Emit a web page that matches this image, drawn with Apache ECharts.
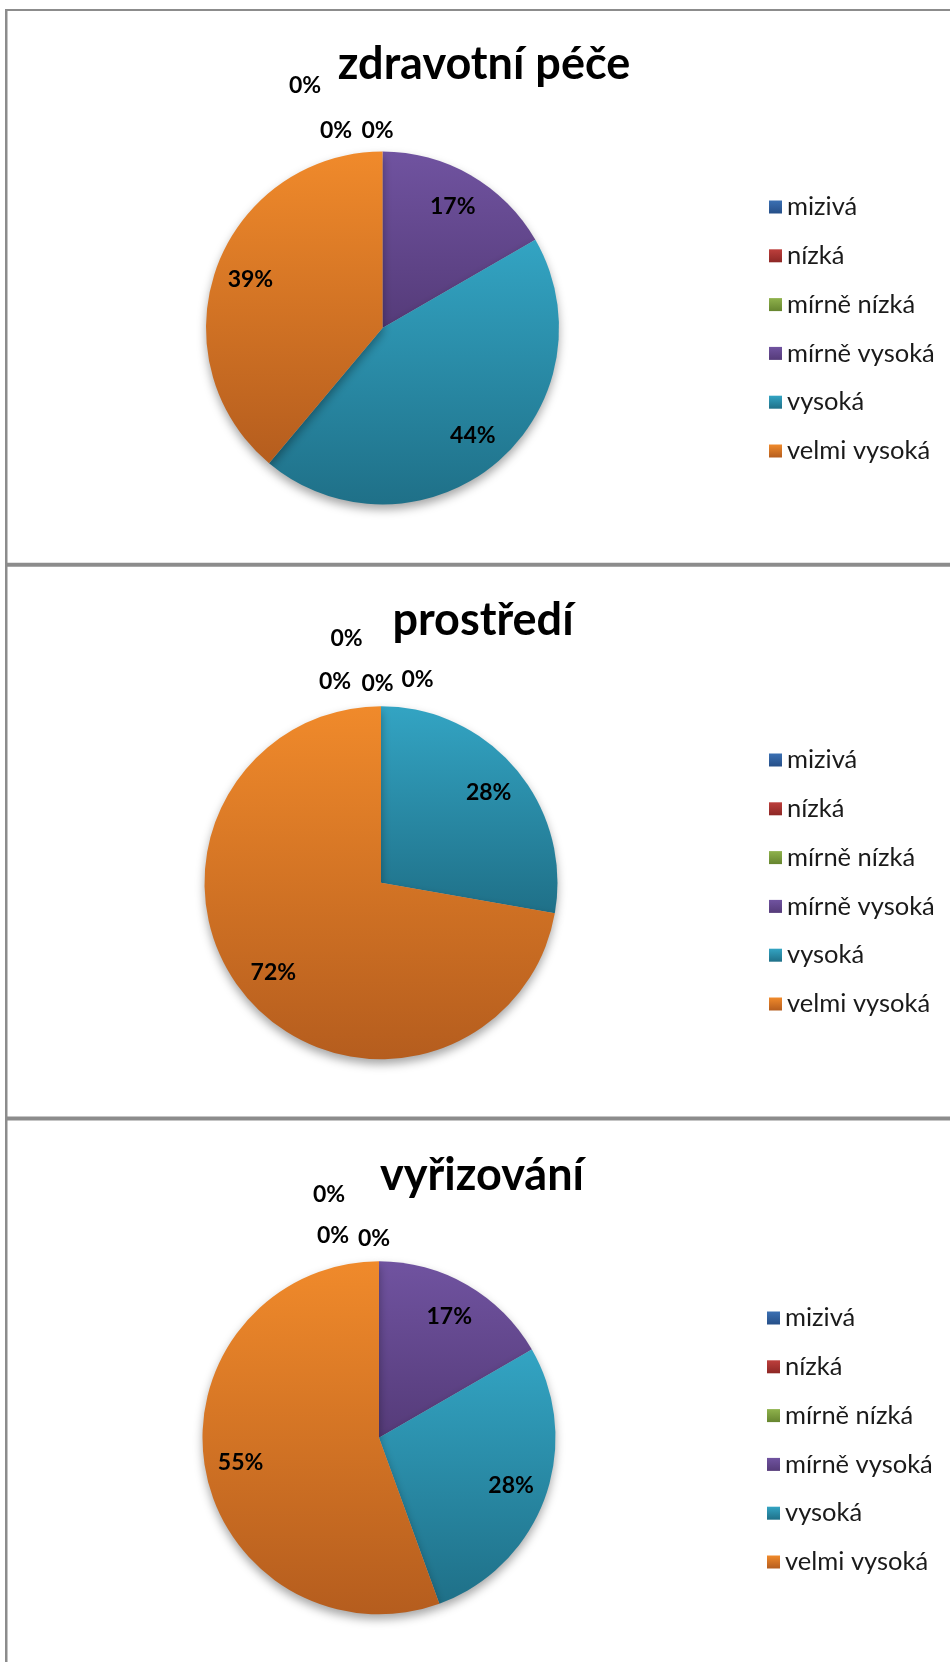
<!DOCTYPE html>
<html><head><meta charset="utf-8">
<script src="https://cdn.jsdelivr.net/npm/echarts@6/dist/echarts.min.js"></script>
<style>html,body{margin:0;padding:0;background:#fff}#c{width:950px;height:1662px}</style>
</head><body><div id="c"></div>
<script>
// ---- data ----
const categories = ['mizivá', 'nízká', 'mírně nízká', 'mírně vysoká', 'vysoká', 'velmi vysoká'];
const titles = ['zdravotní péče', 'prostředí', 'vyřizování'];
// answers per category (18 respondents per question; shares shown as %)
const zdravotniPece = [0, 0, 0, 3, 8, 7];
const prostredi = [0, 0, 0, 0, 5, 13];
const vyrizovani = [0, 0, 0, 3, 5, 10];
const seriesValues = [zdravotniPece, prostredi, vyrizovani];

// ---- styling / layout ----
const colorStops = [
  ['#3b70b3', '#264f88'],
  ['#bd3f3c', '#8d2725'],
  ['#8fb24c', '#66852f'],
  ['#7053a0', '#553b79'],
  ['#33a4c3', '#1f7088'],
  ['#f08a2b', '#b55d1e']
];
const pieCenters = [[382.5, 328], [381, 882.7], [379, 1437.8]];
const pieRadius = 176.5;
const titleCenters = [[484, 64], [483, 620], [482, 1175]];
const legendPos = [[769, 207], [769, 760], [767, 1318]];
const zeroLabelOffsets = [
  [[-77.5, -242.5], [-46.5, -197], [-5, -197]],
  [[-34.5, -243.7], [-46, -200.7], [-3.5, -198.7], [36.5, -202.7]],
  [[-50, -243], [-46, -202], [-5, -199]]
];
const labelRadiusScale = 1.54; // label at ~0.77 r instead of 0.5 r
const FONT = 'Lato, "Open Sans", sans-serif';

function grad(i) {
  return new echarts.graphic.LinearGradient(0, 0, 0, 1, [
    { offset: 0, color: colorStops[i][0] },
    { offset: 1, color: colorStops[i][1] }
  ]);
}

function makeLabelLayout(p) {
  return function (params) {
    const vals = seriesValues[p];
    const i = params.dataIndex;
    const c = pieCenters[p];
    if (vals[i] === 0) {
      let zi = 0;
      for (let k = 0; k < i; k++) if (vals[k] === 0) zi++;
      const o = zeroLabelOffsets[p][zi];
      return { x: c[0] + o[0], y: c[1] + o[1], align: 'center', verticalAlign: 'middle' };
    }
    const r = params.labelRect;
    const lx = r.x + r.width / 2, ly = r.y + r.height / 2;
    return {
      x: c[0] + (lx - c[0]) * labelRadiusScale,
      y: c[1] + (ly - c[1]) * labelRadiusScale,
      align: 'center', verticalAlign: 'middle'
    };
  };
}

const chart = echarts.init(document.getElementById('c'), null, { renderer: 'canvas' });

const series = seriesValues.map(function (vals, p) {
  return {
    type: 'pie',
    name: titles[p],
    center: pieCenters[p],
    radius: [0, pieRadius],
    startAngle: 90,
    clockwise: true,
    percentPrecision: 0,
    avoidLabelOverlap: false,
    animation: false,
    data: categories.map(function (name, i) {
      return { name: name, value: vals[i], itemStyle: { color: grad(i) } };
    }),
    itemStyle: {
      borderWidth: 0,
      shadowBlur: 10,
      shadowOffsetY: 5,
      shadowColor: 'rgba(0,0,0,0.35)'
    },
    label: {
      show: true,
      position: 'inside',
      formatter: '{d}%',
      fontFamily: FONT,
      fontWeight: 'bold',
      fontSize: 23,
      color: '#000'
    },
    labelLine: { show: false },
    labelLayout: makeLabelLayout(p),
    emphasis: { disabled: true }
  };
});

const title = titles.map(function (t, p) {
  return {
    text: t,
    left: titleCenters[p][0],
    top: titleCenters[p][1] - 26,
    textAlign: 'center',
    padding: 0,
    textStyle: {
      fontFamily: FONT, fontWeight: 'bold', fontSize: 45, lineHeight: 52, color: '#000'
    }
  };
});

const legend = legendPos.map(function (lp, p) {
  return {
    orient: 'vertical',
    left: lp[0],
    top: lp[1] - 13,
    padding: 0,
    itemWidth: 13,
    itemHeight: 13,
    itemGap: 22.8,
    icon: 'rect',
    data: categories,
    selectedMode: false,
    textStyle: { fontFamily: FONT, fontSize: 25.5, lineHeight: 26, color: '#1a1a1a' }
  };
});

const lineStyle = { fill: '#8c8c8c' };
const graphic = [
  { type: 'rect', shape: { x: 5, y: 9, width: 2.5, height: 1662 }, style: lineStyle, silent: true },
  { type: 'rect', shape: { x: 5, y: 9, width: 950, height: 2 }, style: lineStyle, silent: true },
  { type: 'rect', shape: { x: 5, y: 562.7, width: 950, height: 4 }, style: lineStyle, silent: true },
  { type: 'rect', shape: { x: 5, y: 1116.5, width: 950, height: 4 }, style: lineStyle, silent: true }
];

chart.setOption({
  backgroundColor: '#fff',
  animation: false,
  title: title,
  legend: legend,
  graphic: graphic,
  series: series
});
</script>
</body></html>
